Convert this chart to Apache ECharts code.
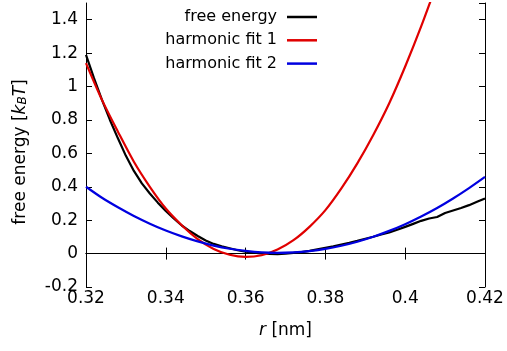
<!DOCTYPE html>
<html>
<head>
<meta charset="utf-8">
<script src="https://cdn.jsdelivr.net/npm/echarts@6/dist/echarts.min.js"></script>
<style>
html,body{margin:0;padding:0;background:#fff;}
#c{width:507px;height:351px;}
</style>
</head>
<body>
<div id="c"></div>
<script>
// ---- data ----
const seriesNames = ['free energy', 'harmonic fit 1', 'harmonic fit 2'];

const rFree = [0.320,0.322,0.324,0.326,0.328,0.330,0.332,0.334,0.336,0.338,
               0.340,0.342,0.344,0.346,0.348,0.350,0.352,0.354,0.356,0.358,
               0.360,0.362,0.364,0.366,0.368,0.370,0.372,0.374,0.376,0.378,
               0.380,0.382,0.384,0.386,0.388,0.390,0.392,0.394,0.396,0.398,
               0.400,0.402,0.404,0.406,0.408,0.410,0.412,0.414,0.416,0.418,0.420];
const freeEnergy = [1.19,1.05,0.92,0.80,0.69,0.585,0.495,0.42,0.36,0.305,
                    0.255,0.21,0.168,0.135,0.105,0.078,0.058,0.044,0.032,0.020,
                    0.011,0.005,0.001,-0.002,-0.003,0.0,0.004,0.009,0.016,0.025,
                    0.034,0.043,0.054,0.064,0.076,0.089,0.101,0.114,0.127,0.143,
                    0.160,0.178,0.196,0.210,0.219,0.243,0.258,0.273,0.290,0.310,0.330];

const rFit1 = [0.320,0.324,0.328,0.332,0.336,0.340,0.344,0.348,0.352,0.356,0.360,0.364,
               0.368,0.372,0.376,0.380,0.384,0.388,0.392,0.396,0.400,0.404,0.408];
const fit1 = [1.14,0.92,0.73,0.55,0.40,0.27,0.17,0.087,0.028,-0.007,-0.02,-0.01,
              0.024,0.08,0.16,0.26,0.39,0.54,0.71,0.90,1.12,1.36,1.62];

const rFit2 = [0.320,0.324,0.328,0.332,0.336,0.340,0.344,0.348,0.352,0.356,0.360,0.364,0.368,
               0.372,0.376,0.380,0.384,0.388,0.392,0.396,0.400,0.404,0.408,0.412,0.416,0.420];
const fit2 = [0.40,0.334,0.277,0.225,0.179,0.138,0.103,0.073,0.048,0.029,0.016,0.007,0.004,
              0.007,0.015,0.028,0.047,0.071,0.101,0.136,0.176,0.222,0.273,0.330,0.392,0.459];

const xTickLabels = ['0.32','0.34','0.36','0.38','0.4','0.42'];
const yTickLabels = ['-0.2','0','0.2','0.4','0.6','0.8','1','1.2','1.4'];

// ---- chart ----
const FONT = 'DejaVu Sans';
const colors = ['#000000', '#e00000', '#0000e0'];
const pair = (xs, ys) => xs.map((x, i) => [x, ys[i]]);

const xFmt = v => { const i = Math.round((v - 0.32) / 0.02); return (Math.abs(v - (0.32 + i*0.02)) < 1e-9 && xTickLabels[i]) ? xTickLabels[i] : ''; };
const yFmt = v => { const i = Math.round((v + 0.2) / 0.2); return (Math.abs(v - (-0.2 + i*0.2)) < 1e-9 && yTickLabels[i] !== undefined) ? yTickLabels[i] : ''; };

const chart = echarts.init(document.getElementById('c'), null, {renderer: 'canvas'});
const axisLine = {show: true, lineStyle: {color: '#000', width: 1}};
const axisTick = {show: true, inside: true, length: 6, lineStyle: {color: '#000', width: 1}};

chart.setOption({
  animation: false,
  backgroundColor: '#fff',
  grid: {left: 86, right: 22, top: 3, bottom: 64, outerBoundsMode: 'none', containLabel: false},
  legend: {
    orient: 'vertical',
    align: 'right',
    right: 190,
    top: 9,
    padding: 0,
    icon: 'rect',
    itemWidth: 30,
    itemHeight: 2.5,
    itemGap: 7.3,
    data: seriesNames,
    textStyle: {fontFamily: FONT, fontSize: 16, color: '#000', lineHeight: 16, padding: [0, 5, 0, 0]}
  },
  xAxis: [{
    type: 'value', min: 0.32, max: 0.42, interval: 0.02, position: 'bottom',
    axisLine, axisTick, splitLine: {show: false},
    axisLabel: {formatter: xFmt, fontFamily: FONT, fontSize: 17, color: '#000', margin: 3},
    name: '{i|r} [nm]', nameLocation: 'middle', nameGap: 35,
    nameTextStyle: {fontFamily: FONT, fontSize: 17, color: '#000',
      rich: {i: {fontFamily: FONT, fontSize: 17, fontStyle: 'italic', color: '#000'}}}
  }, {
    type: 'value', min: 0.32, max: 0.42, interval: 0.02, position: 'top',
    axisLine, axisTick, splitLine: {show: false}, axisLabel: {show: false}
  }],
  yAxis: [{
    type: 'value', min: -0.2, max: 1.5, interval: 0.2, position: 'left',
    axisLine, axisTick, splitLine: {show: false},
    axisLabel: {formatter: yFmt, fontFamily: FONT, fontSize: 17, color: '#000', margin: 8, showMaxLabel: false},
    name: 'free energy [{i|k}{s|B}{i|T}]', nameLocation: 'middle', nameGap: 57,
    nameTextStyle: {fontFamily: FONT, fontSize: 17, color: '#000', padding: [0, 14, 0, 0],
      rich: {
        i: {fontFamily: FONT, fontSize: 17, fontStyle: 'italic', color: '#000'},
        s: {fontFamily: FONT, fontSize: 12, fontStyle: 'italic', color: '#000', verticalAlign: 'bottom', lineHeight: 12}
      }}
  }, {
    type: 'value', min: -0.2, max: 1.5, interval: 0.2, position: 'right',
    axisLine, axisTick, splitLine: {show: false}, axisLabel: {show: false}
  }],
  series: [
    {name: seriesNames[0], type: 'line', data: pair(rFree, freeEnergy), symbol: 'none', showSymbol: false,
     lineStyle: {color: colors[0], width: 2.2}, itemStyle: {color: colors[0]}, z: 2},
    {name: seriesNames[1], type: 'line', data: pair(rFit1, fit1), symbol: 'none', showSymbol: false, smooth: 0.3,
     lineStyle: {color: colors[1], width: 2.2}, itemStyle: {color: colors[1]}, z: 3},
    {name: seriesNames[2], type: 'line', data: pair(rFit2, fit2), symbol: 'none', showSymbol: false, smooth: 0.3,
     lineStyle: {color: colors[2], width: 2.2}, itemStyle: {color: colors[2]}, z: 4}
  ]
});
</script>
</body>
</html>
